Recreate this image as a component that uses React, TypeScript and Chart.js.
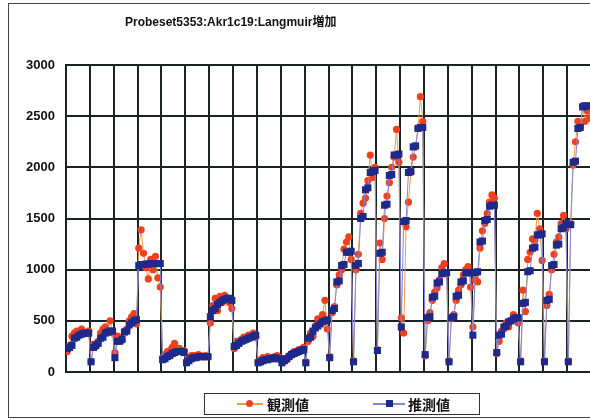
import React, { useEffect, useRef } from "react";
import { Chart, registerables } from "chart.js";

Chart.register(...registerables);

const titleText = "Probeset5353:Akr1c19:Langmuir増加";
const seriesNames = ["観測値", "推測値"];
const yTicks = [0, 500, 1000, 1500, 2000, 2500, 3000];
const groupCount = 22;
const pointsPerGroup = 10;

// 観測値 (observed), 10 points per group, 22 groups
const observed: number[] = [
  200, 260, 350, 380, 400, 370, 420, 390, 380, 400,
  100, 270, 250, 300, 380, 420, 440, 400, 500, 380,
  190, 350, 340, 310, 400, 420, 500, 540, 570, 470,
  1210, 1390, 1160, 1020, 910, 1100, 1000, 1130, 920, 830,
  140, 170, 200, 210, 240, 280, 220, 230, 200, 210,
  100, 140, 160, 160, 150, 170, 160, 150, 160, 150,
  480, 650, 720, 600, 740, 680, 750, 700, 680, 620,
  230, 300, 290, 320, 340, 330, 360, 350, 380, 340,
  100, 120, 140, 130, 150, 140, 140, 150, 160, 140,
  100, 130, 120, 160, 180, 200, 190, 220, 210, 240,
  100, 300, 380, 350, 450, 520, 480, 560, 700, 420,
  150, 580, 640, 850, 950, 1000, 1200, 1270, 1320, 1100,
  110, 1000, 1150, 1550, 1650, 1700, 1870, 2120, 1900, 2000,
  220, 1260, 1100, 1500, 1720, 1850, 2000, 2100, 2370, 2050,
  530, 380, 1420, 1660, 1950, 2100, 2200, 2380, 2690, 2450,
  160, 500, 580, 700, 780, 820, 900, 1020, 1060, 960,
  110, 520, 560, 700, 800, 850, 950, 1000, 1030, 830,
  440, 900, 880, 1210, 1380, 1450, 1550, 1660, 1730, 1700,
  180, 300, 400, 420, 480, 440, 500, 560, 530, 480,
  110, 800, 590, 1100, 1170, 1300, 1290, 1550, 1400, 1090,
  110, 650, 760, 1000, 1150, 1270, 1320, 1450, 1530, 1400,
  110, 1450, 2020, 2250, 2450, 2400, 2600, 2450, 2550, 2480,
];

// 推測値 (estimated), 10 points per group, 22 groups
const estimated: number[] = [
  230, 240, 260, 330, 340, 360, 370, 380, 380, 380,
  100, 240, 260, 280, 330, 340, 380, 390, 400, 400,
  140, 300, 300, 320, 390, 400, 460, 480, 500, 510,
  1040, 1050, 1050, 1055, 1055, 1060, 1060, 1060, 1060, 1060,
  120, 130, 150, 160, 180, 190, 200, 200, 200, 190,
  90, 110, 130, 140, 140, 150, 150, 150, 150, 150,
  540, 600, 620, 660, 680, 700, 710, 720, 720, 700,
  250, 260, 280, 300, 310, 320, 330, 340, 350, 360,
  90, 100, 110, 120, 120, 130, 130, 140, 130, 130,
  90, 110, 130, 150, 170, 180, 190, 200, 210, 220,
  90, 330, 340, 400, 430, 450, 470, 490, 500, 510,
  140, 600, 620, 880, 890, 1040, 1050, 1170, 1170, 1180,
  100, 1040, 1060, 1500, 1520, 1780, 1800, 1950, 1960, 1970,
  210, 1160, 1170, 1630, 1640, 1920, 1930, 2120, 2120, 2130,
  440, 1470, 1480, 1950, 1960, 2200, 2210, 2380, 2390, 2390,
  170, 530, 540, 730, 740, 870, 880, 960, 970, 970,
  100, 530, 540, 740, 750, 880, 890, 970, 970, 970,
  360, 970, 980, 1270, 1280, 1480, 1490, 1620, 1630, 1630,
  190, 360, 370, 440, 450, 490, 500, 520, 530, 530,
  100, 670, 680, 980, 990, 1210, 1220, 1340, 1340, 1350,
  100, 700, 710, 1040, 1050, 1240, 1250, 1400, 1410, 1450,
  100, 1440, 2050, 2060, 2380, 2390, 2590, 2600, 2600, 2600,
];

const RED = "#f2401c";
const RED_LINE = "#f39a4a";
const BLUE = "#1d2a8a";
const BLUE_LINE = "#8088d8";
const GRID = "#1a2424";

export default function App() {
  const canvasRef = useRef<HTMLCanvasElement | null>(null);

  useEffect(() => {
    const canvas = canvasRef.current;
    if (!canvas) return;
    const toPoints = (arr: number[]) => arr.map((v, i) => ({ x: i + 0.5, y: v }));
    const chart = new Chart(canvas, {
      type: "line",
      data: {
        datasets: [
          {
            label: seriesNames[0],
            data: toPoints(observed),
            borderColor: RED_LINE,
            borderWidth: 1,
            pointStyle: "circle",
            pointRadius: 3.6,
            pointBackgroundColor: RED,
            pointBorderColor: RED,
            pointBorderWidth: 0,
            order: 2,
          },
          {
            label: seriesNames[1],
            data: toPoints(estimated),
            borderColor: BLUE_LINE,
            borderWidth: 1,
            pointStyle: "rect",
            pointRadius: 5,
            pointBackgroundColor: BLUE,
            pointBorderColor: BLUE,
            pointBorderWidth: 0,
            order: 1,
          },
        ],
      },
      options: {
        animation: false,
        responsive: false,
        layout: { padding: { left: 0, right: 9, top: 65, bottom: 48 } },
        plugins: {
          legend: { display: false },
          title: { display: false },
          tooltip: { enabled: false },
        },
        scales: {
          x: {
            type: "linear",
            min: 0,
            max: groupCount * pointsPerGroup,
            ticks: { display: false, stepSize: pointsPerGroup },
            grid: { color: GRID, lineWidth: 2, drawTicks: false },
            border: { display: true, color: GRID, width: 2 },
          },
          y: {
            type: "linear",
            min: yTicks[0],
            max: yTicks[yTicks.length - 1],
            afterBuildTicks: (s: any) => {
              s.ticks = yTicks.map((v) => ({ value: v }));
            },
            afterFit: (s: any) => {
              s.width = 66;
            },
            ticks: {
              padding: 11,
              color: "#111",
              callback: (v: any) => String(v),
              font: { family: "'Liberation Sans', Arial, sans-serif", size: 13, weight: "bold" },
            },
            grid: { color: GRID, lineWidth: 2, drawTicks: false },
            border: { display: true, color: GRID, width: 2 },
          },
        },
      },
    });
    return () => chart.destroy();
  }, []);

  return (
    <div
      style={{
        position: "fixed",
        left: 0,
        top: 0,
        width: 590,
        height: 420,
        overflow: "hidden",
        background: "#fff",
      }}
    >
      <canvas ref={canvasRef} width={600} height={420} style={{ display: "block", position: "absolute", left: 0, top: 0 }} />
      <div
        style={{
          position: "absolute",
          left: 8,
          top: 3,
          width: 700,
          height: 413,
          border: "1.5px solid #444",
          pointerEvents: "none",
        }}
      />
      <div
        style={{
          position: "absolute",
          left: 125,
          top: 12,
          fontFamily: "'Liberation Sans', 'Noto Sans CJK JP', sans-serif",
          fontWeight: "bold",
          fontSize: 12,
          color: "#111",
          whiteSpace: "nowrap",
        }}
      >
        {titleText}
      </div>
      <div
        style={{
          position: "absolute",
          left: 204,
          top: 393,
          width: 276,
          height: 22,
          border: "1.5px solid #333",
          boxSizing: "border-box",
          background: "#fff",
        }}
      >
        <div style={{ position: "absolute", left: 32, top: 9, width: 26, height: 1.5, background: RED_LINE }} />
        <div style={{ position: "absolute", left: 41, top: 6, width: 7, height: 7, borderRadius: "50%", background: RED }} />
        <div
          style={{
            position: "absolute",
            left: 62,
            top: 1,
            fontFamily: "'Noto Sans CJK JP', sans-serif",
            fontWeight: "bold",
            fontSize: 14,
            lineHeight: "18px",
            color: "#111",
            whiteSpace: "nowrap",
          }}
        >
          {seriesNames[0]}
        </div>
        <div style={{ position: "absolute", left: 168, top: 9, width: 32, height: 1.5, background: BLUE_LINE }} />
        <div style={{ position: "absolute", left: 181, top: 6, width: 7, height: 7, background: BLUE }} />
        <div
          style={{
            position: "absolute",
            left: 203,
            top: 1,
            fontFamily: "'Noto Sans CJK JP', sans-serif",
            fontWeight: "bold",
            fontSize: 14,
            lineHeight: "18px",
            color: "#111",
            whiteSpace: "nowrap",
          }}
        >
          {seriesNames[1]}
        </div>
      </div>
    </div>
  );
}
